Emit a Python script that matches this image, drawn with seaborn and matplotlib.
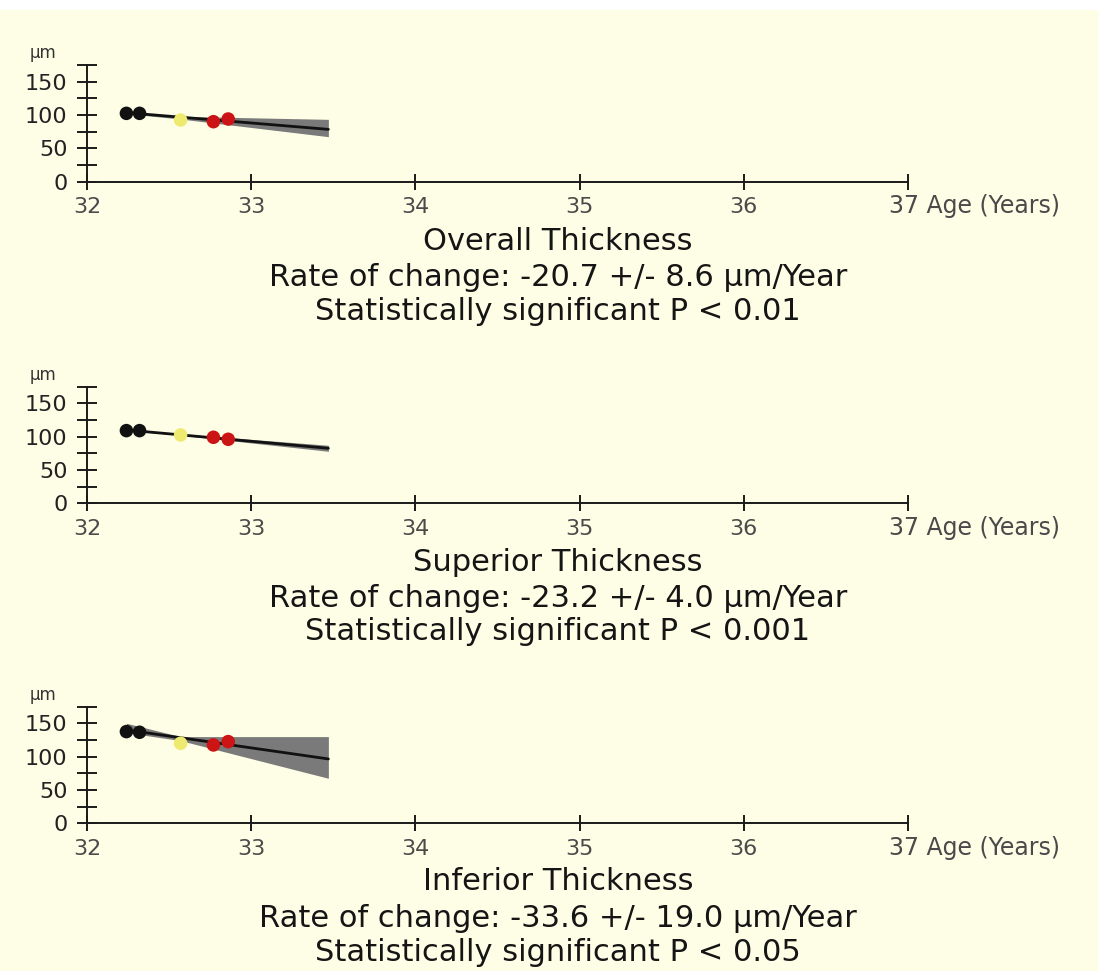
import matplotlib
matplotlib.use("Agg")
import matplotlib.pyplot as plt
import seaborn as sns
import pandas as pd
from matplotlib.patches import Rectangle

# ---------------- data ----------------
visit_age = [32.24, 32.32, 32.57, 32.77, 32.86]
visit_group = ["baseline", "baseline", "middle", "recent", "recent"]
group_colors = {"baseline": "#111111", "middle": "#eeea70", "recent": "#cc1414"}

overall_vals = [102.5, 102.5, 92.5, 90, 94]
superior_vals = [109, 109, 102.5, 99, 96]
inferior_vals = [137.5, 136.5, 120, 117.5, 122.5]

trend_x = [32.24, 33.47]
overall_trend = [103.5, 78.5]
superior_trend = [110, 82.5]
inferior_trend = [140, 96.5]

band_x = [32.24, 32.57, 33.47]
overall_hi = [104, 98, 93.5]
overall_lo = [102, 94, 67.5]
superior_hi = [111, 104, 87]
superior_lo = [109, 102, 78]
inferior_hi = [150, 130, 130]
inferior_lo = [136, 124, 67.5]

panel_names = ["Overall Thickness", "Superior Thickness", "Inferior Thickness"]
rate_text = ["Rate of change: -20.7 +/- 8.6 \u00b5m/Year",
             "Rate of change: -23.2 +/- 4.0 \u00b5m/Year",
             "Rate of change: -33.6 +/- 19.0 \u00b5m/Year"]
sig_text = ["Statistically significant P < 0.01",
            "Statistically significant P < 0.001",
            "Statistically significant P < 0.05"]

x_ticks = [32, 33, 34, 35, 36, 37]
y_ticks = [0, 25, 50, 75, 100, 125, 150, 175]
y_labels = ["0", "", "50", "", "100", "", "150", ""]

panels = [
    (overall_vals, overall_trend, overall_hi, overall_lo),
    (superior_vals, superior_trend, superior_hi, superior_lo),
    (inferior_vals, inferior_trend, inferior_hi, inferior_lo),
]

# ---------------- style ----------------
sns.set_theme(style="white")
plt.rcParams["font.family"] = ["DejaVu Sans"]
BG = "#fefee6"

W, H = 1098, 971
fig = plt.figure(figsize=(W / 100, H / 100), dpi=100, facecolor=BG)
fig.patches.append(Rectangle((0, 1 - 10 / H), 1, 10 / H, transform=fig.transFigure,
                             facecolor="white", edgecolor="none", zorder=-1))

axis_zero_px = [181.7, 503.3, 823.3]
title_px = [(242, 277, 311), (562, 598, 632), (882, 918, 952)]
ax_left, ax_right = 87, 908
ax_h = 116.7

for i, (vals, trend, hi, lo) in enumerate(panels):
    bottom = 1 - axis_zero_px[i] / H
    ax = fig.add_axes([ax_left / W, bottom, (ax_right - ax_left) / W, ax_h / H])
    ax.set_facecolor(BG)
    ax.patch.set_alpha(0)

    ax.fill_between(band_x, lo, hi, color="#7a7a7a", linewidth=0, zorder=1)
    df_line = pd.DataFrame({"age": trend_x, "val": trend})
    sns.lineplot(data=df_line, x="age", y="val", color="#111111", linewidth=2, ax=ax, zorder=2)
    df = pd.DataFrame({"age": visit_age, "val": vals, "grp": visit_group})
    sns.scatterplot(data=df, x="age", y="val", hue="grp", palette=group_colors,
                    s=95, edgecolor="none", legend=False, ax=ax, zorder=3)

    ax.set_xlim(32, 37)
    ax.set_ylim(0, 175)
    ax.set_xlabel("")
    ax.set_ylabel("")
    for s in ["top", "right"]:
        ax.spines[s].set_visible(False)
    for s in ["left", "bottom"]:
        ax.spines[s].set_color("#1a1a1a")
        ax.spines[s].set_linewidth(1.4)
    ax.set_xticks(x_ticks)
    ax.set_xticklabels([str(t) for t in x_ticks[:-1]] + [""])
    ax.set_yticks(y_ticks)
    ax.set_yticklabels(y_labels)
    ax.tick_params(axis="both", direction="inout", width=1.4,
                   bottom=True, left=True, color="#1a1a1a", labelsize=16)
    ax.tick_params(axis="x", length=12, pad=5, labelcolor="#4a4a4a")
    ax.tick_params(axis="y", length=14, pad=7, labelcolor="#222222")

    ax.annotate("37 Age (Years)", xy=(37, 0), xycoords="data",
                xytext=(-14, -9), textcoords="offset points",
                ha="left", va="top", fontsize=17, color="#4a4a4a",
                annotation_clip=False)
    ax.annotate("\u00b5m", xy=(0, 1), xycoords="axes fraction",
                xytext=(-57 * 0.72, 2), textcoords="offset points",
                ha="left", va="bottom", fontsize=12, color="#333333",
                annotation_clip=False)

    cx = 558 / W
    for txt, ypx in zip([panel_names[i], rate_text[i], sig_text[i]], title_px[i]):
        fig.text(cx, 1 - ypx / H, txt, ha="center", va="center",
                 fontsize=22, color="#151515")

fig.savefig("out.png", dpi=100, facecolor=BG)
